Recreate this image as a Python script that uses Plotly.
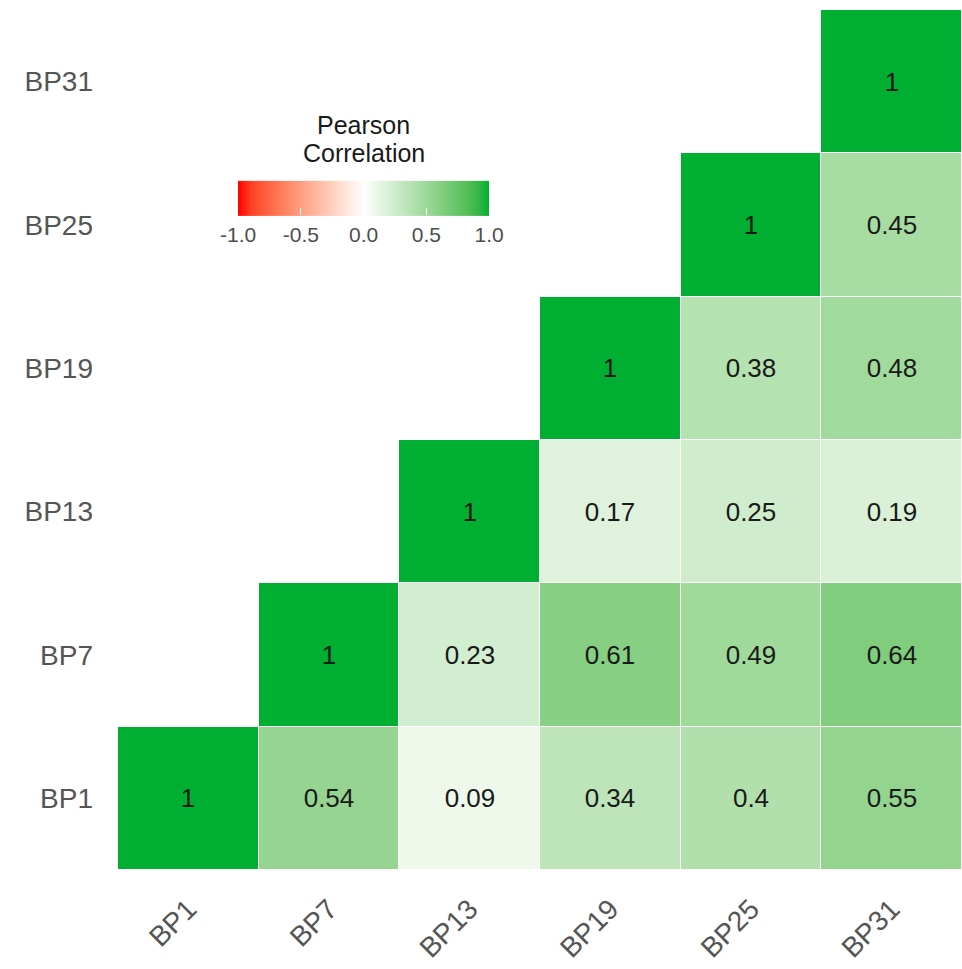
import plotly.graph_objects as go

# Variables and pairwise Pearson correlations (upper triangle only)
labels = ["BP1", "BP7", "BP13", "BP19", "BP25", "BP31"]
row_bp1 = [1, 0.54, 0.09, 0.34, 0.4, 0.55]
row_bp7 = [None, 1, 0.23, 0.61, 0.49, 0.64]
row_bp13 = [None, None, 1, 0.17, 0.25, 0.19]
row_bp19 = [None, None, None, 1, 0.38, 0.48]
row_bp25 = [None, None, None, None, 1, 0.45]
row_bp31 = [None, None, None, None, None, 1]
cbar_ticks = [-1.0, -0.5, 0.0, 0.5, 1.0]

z = [row_bp1, row_bp7, row_bp13, row_bp19, row_bp25, row_bp31]
text = [["" if v is None else f"{v:g}" for v in row] for row in z]


# Diverging red-white-green scale, interpolated in CIELAB
def _to_lin(c):
    c = c / 255
    return c / 12.92 if c <= 0.04045 else ((c + 0.055) / 1.055) ** 2.4


def _from_lin(c):
    c = 12.92 * c if c <= 0.0031308 else 1.055 * c ** (1 / 2.4) - 0.055
    return max(0, min(255, round(c * 255)))


def rgb_to_lab(rgb):
    r, g, b = (_to_lin(v) for v in rgb)
    x = (0.4124 * r + 0.3576 * g + 0.1805 * b) / 0.95047
    y = (0.2126 * r + 0.7152 * g + 0.0722 * b) / 1.0
    zz = (0.0193 * r + 0.1192 * g + 0.9505 * b) / 1.08883
    f = lambda t: t ** (1 / 3) if t > 0.008856 else 7.787 * t + 16 / 116
    fx, fy, fz = f(x), f(y), f(zz)
    return (116 * fy - 16, 500 * (fx - fy), 200 * (fy - fz))


def lab_to_rgb(lab):
    L, a, bb = lab
    fy = (L + 16) / 116
    fx = fy + a / 500
    fz = fy - bb / 200
    inv = lambda t: t ** 3 if t ** 3 > 0.008856 else (t - 16 / 116) / 7.787
    x, y, zz = inv(fx) * 0.95047, inv(fy), inv(fz) * 1.08883
    r = 3.2406 * x - 1.5372 * y - 0.4986 * zz
    g = -0.9689 * x + 1.8758 * y + 0.0415 * zz
    b = 0.0557 * x - 0.2040 * y + 1.0570 * zz
    return tuple(_from_lin(v) for v in (r, g, b))


low, mid, high = (255, 0, 0), (255, 255, 255), (0, 175, 50)
scale = []
n = 10
for lo, hi, start in ((low, mid, 0.0), (mid, high, 0.5)):
    la, lb = rgb_to_lab(lo), rgb_to_lab(hi)
    for i in range(n + 1):
        t = i / n
        lab = tuple(la[k] + (lb[k] - la[k]) * t for k in range(3))
        r, g, b = lab_to_rgb(lab)
        pos = start + 0.5 * t
        if scale and abs(scale[-1][0] - pos) < 1e-9:
            continue
        scale.append([pos, f"rgb({r},{g},{b})"])

font_family = "Liberation Sans, Arial, sans-serif"

fig = go.Figure(
    go.Heatmap(
        z=z,
        x=labels,
        y=labels,
        text=text,
        texttemplate="%{text}",
        textfont=dict(family=font_family, size=26, color="#1a1a1a"),
        colorscale=scale,
        zmin=-1,
        zmax=1,
        xgap=1,
        ygap=1,
        hoverongaps=False,
        colorbar=dict(
            orientation="h",
            x=0.291,
            xanchor="center",
            y=0.759,
            yanchor="middle",
            len=0.321,
            lenmode="fraction",
            thickness=35,
            outlinewidth=0,
            tickvals=cbar_ticks,
            ticktext=[f"{v:.1f}" for v in cbar_ticks],
            ticks="inside",
            ticklen=7,
            tickcolor="white",
            tickfont=dict(family=font_family, size=21, color="#4d4d4d"),
        ),
    )
)

# Two-line legend title
for line, ypos in (("Pearson", 0.8663), ("Correlation", 0.8337)):
    fig.add_annotation(
        text=line,
        xref="paper",
        yref="paper",
        x=0.291,
        y=ypos,
        xanchor="center",
        yanchor="middle",
        showarrow=False,
        font=dict(family=font_family, size=25, color="#1a1a1a"),
    )

fig.update_layout(
    width=962,
    height=969,
    margin=dict(l=118, r=0, t=10, b=99),
    plot_bgcolor="white",
    paper_bgcolor="white",
    xaxis=dict(
        showgrid=False,
        zeroline=False,
        tickangle=-45,
        ticklabelstandoff=16,
        tickfont=dict(family=font_family, size=28, color="#555555"),
    ),
    yaxis=dict(
        showgrid=False,
        zeroline=False,
        ticklabelstandoff=24,
        tickfont=dict(family=font_family, size=28, color="#555555"),
    ),
)

fig.write_html("out.html")
